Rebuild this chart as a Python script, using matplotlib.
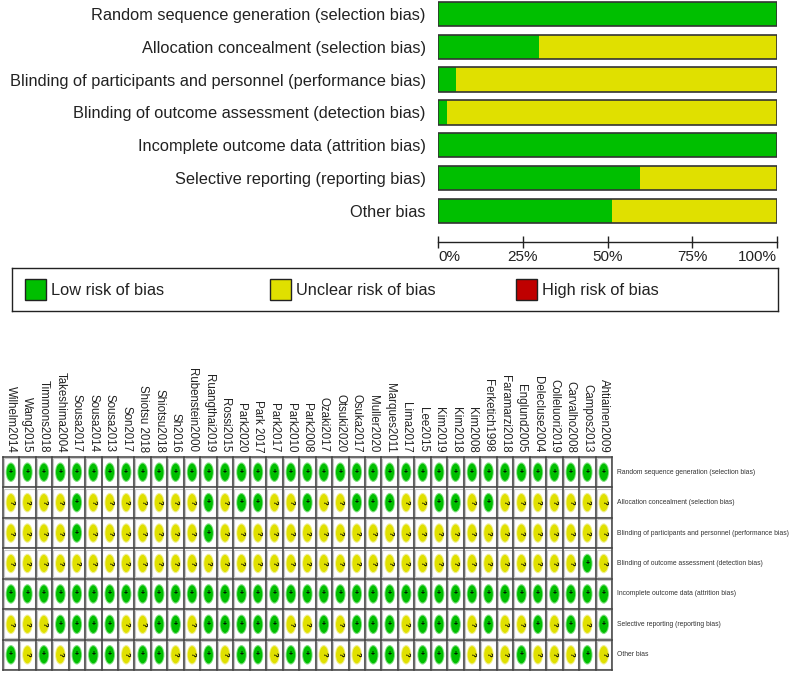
import matplotlib
matplotlib.use("Agg")
import matplotlib.pyplot as plt
from matplotlib.patches import Ellipse, Rectangle
import numpy as np

# risk of bias domains (top to bottom)
domains = [
    "Random sequence generation (selection bias)",
    "Allocation concealment (selection bias)",
    "Blinding of participants and personnel (performance bias)",
    "Blinding of outcome assessment (detection bias)",
    "Incomplete outcome data (attrition bias)",
    "Selective reporting (reporting bias)",
    "Other bias",
]

# studies, left to right as in the summary grid
studies = [
    "Wilhelm2014", "Wang2015", "Timmons2018", "Takeshima2004", "Sousa2017",
    "Sousa2014", "Sousa2013", "Son2017", "Shiotsu 2018", "Shiotsu2018",
    "Sh2016", "Rubenstein2000", "Ruangthai2019", "Rossi2015", "Park2020",
    "Park 2017", "Park2017", "Park2010", "Park2008", "Ozaki2017",
    "Otsuki2020", "Osuka2017", "Muller2020", "Marques2011", "Lima2017",
    "Lee2015", "Kim2019", "Kim2018", "Kim2008", "Ferketich1998",
    "Faramarzi2018", "Englund2005", "Delecluse2004", "Colleluori2019",
    "Carvalho2008", "Campos2013", "Ahtiainen2009",
]

# judgements per domain: '+' low risk, '?' unclear risk
random_seq   = "+++++++++++++++++++++++++++++++++++++"
allocation   = "????+???????+?++??+??+++??++?+???????"
blind_part   = "????+???????+????????????????????????"
blind_outc   = "???????????????????????????????????+?"
incomplete   = "+++++++++++++++++++++++++++++++++++++"
selective    = "???++++??++?+++++??+?+++?+++?+??+?+?+"
other        = "+?+?+++?++??+?++?++???++?+++???+???+?"
judgements = [random_seq, allocation, blind_part, blind_outc,
              incomplete, selective, other]

legend_labels = ["Low risk of bias", "Unclear risk of bias", "High risk of bias"]
tick_labels = ["0%", "25%", "50%", "75%", "100%"]

GREEN = "#00BF00"
YELLOW = "#E0E000"
RED = "#BF0000"

W, H = 793, 676
fig = plt.figure(figsize=(W / 100, H / 100), dpi=100)
plt.rcParams['font.family'] = ['Liberation Sans', 'DejaVu Sans']


def fig_rect(x0, y0, x1, y1):
    # pixel box (top-left origin) -> figure fraction rect
    return [x0 / W, 1 - y1 / H, (x1 - x0) / W, (y1 - y0) / H]


# ------------------------------------------------------------
# Top: risk of bias graph (percent across studies)
# ------------------------------------------------------------
n = len(studies)
low_frac = np.array([s.count("+") / n for s in judgements])
unclear_frac = np.array([s.count("?") / n for s in judgements])

ax = fig.add_axes(fig_rect(438, 0, 777, 242))
rows = np.arange(len(domains))
bh = 24.5 / 32.8
ax.barh(rows, low_frac, height=bh, color=GREEN, linewidth=0)
ax.barh(rows, unclear_frac, left=low_frac, height=bh, color=YELLOW, linewidth=0)
ax.barh(rows, np.ones(len(domains)), height=bh, fill=False,
        edgecolor="#333333", linewidth=1.2)
ax.set_xlim(0, 1)
ax.set_ylim((242 - 14) / 32.8, -14 / 32.8)
ax.set_yticks(rows)
ax.set_yticklabels(domains, fontsize=11.8, color="#222222")
ax.tick_params(axis="y", length=0, pad=9)
ax.set_xticks([0, 0.25, 0.5, 0.75, 1.0])
ax.set_xticklabels(tick_labels, fontsize=11, color="#222222")
xt = ax.get_xticklabels()
xt[0].set_ha("left")
xt[-1].set_ha("right")
ax.tick_params(axis="x", direction="inout", length=8, width=1, color="#222222", pad=2)
for side in ["top", "right", "left"]:
    ax.spines[side].set_visible(False)
ax.spines["bottom"].set_color("#222222")
ax.spines["bottom"].set_linewidth(1)
ax.set_facecolor("none")

# legend box
lax = fig.add_axes(fig_rect(12, 268, 778, 311))
lax.set_xlim(12, 778)
lax.set_ylim(311, 268)
lax.set_xticks([])
lax.set_yticks([])
for sp in lax.spines.values():
    sp.set_color("#222222")
    sp.set_linewidth(1)
for x0, col, lab in zip([25, 270, 516], [GREEN, YELLOW, RED], legend_labels):
    lax.add_patch(Rectangle((x0, 279), 21, 21, facecolor=col,
                            edgecolor="#222222", linewidth=1))
    lax.text(x0 + 26, 290, lab, fontsize=11.8, va="center", ha="left",
             color="#222222")

# ------------------------------------------------------------
# Bottom: risk of bias summary grid
# ------------------------------------------------------------
gx0, gx1, gy0, gy1 = 2.7, 612, 457, 670
gax = fig.add_axes(fig_rect(gx0, gy0, gx1, gy1))
nd = len(domains)
gax.set_xlim(0, n)
gax.set_ylim(nd, 0)
gax.axis("off")

cw = (gx1 - gx0) / n
ch = (gy1 - gy0) / nd
for j in range(nd):
    for i in range(n):
        gax.add_patch(Rectangle((i + 0.06, j + 0.04), 0.88, 0.92, fill=False,
                                edgecolor="#c8c8c8", linewidth=0.8))
        mark = judgements[j][i]
        if mark == "+":
            face, halo = GREEN, "#80E080"
        else:
            face, halo = YELLOW, "#F0F090"
        ew, eh = 10.5 / cw, 19.5 / ch
        gax.add_patch(Ellipse((i + 0.5, j + 0.5), ew, eh, facecolor=halo,
                              edgecolor="none"))
        gax.add_patch(Ellipse((i + 0.5, j + 0.5), ew * 0.82, eh * 0.88,
                              facecolor=face, edgecolor="none"))
        if mark == "+":
            gax.text(i + 0.5, j + 0.5, "+", fontsize=5, ha="center",
                     va="center", color="black", fontweight="bold")
        else:
            gax.text(i + 0.5, j + 0.5, "?", fontsize=5.5, ha="center",
                     va="center", color="black", rotation=-90,
                     fontweight="bold")

for i in range(n + 1):
    gax.plot([i, i], [0, nd], color="#404040", linewidth=1.1, clip_on=False)
for j in range(nd + 1):
    gax.plot([0, n], [j, j], color="#404040", linewidth=1.1, clip_on=False)

# study names above grid
for i, name in enumerate(studies):
    gax.text(i + 0.5, -0.15, name, rotation=-90, fontsize=8.3, ha="center",
             va="bottom", color="#222222")

# domain names on the right
for j, d in enumerate(domains):
    gax.text(n + 0.3, j + 0.5, d, fontsize=4.9, ha="left", va="center",
             color="#333333", clip_on=False)

fig.savefig("out.png", dpi=100)
